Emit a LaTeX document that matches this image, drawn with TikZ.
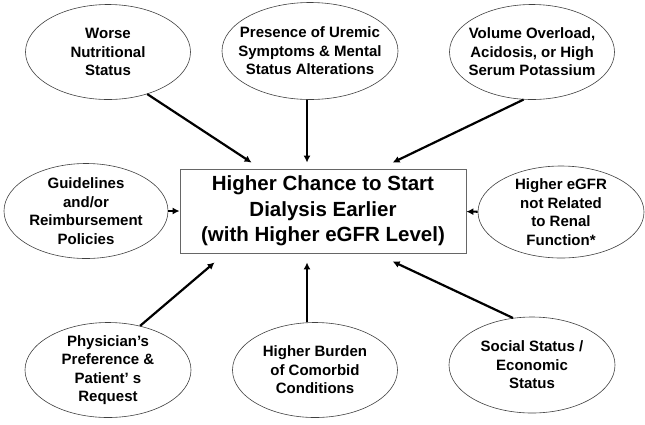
\documentclass[tikz,border=0pt]{standalone}
\usepackage{fontspec}
\setmainfont{Liberation Sans}
\usepackage{tikz}
\usetikzlibrary{arrows.meta,shapes.geometric,calc}

\begin{document}
\begin{tikzpicture}[x=1pt, y=-1pt, >={Latex[length=7pt,width=7pt]}]
    \tikzset{factor/.style={ellipse, draw=black!75, line width=0.6pt, minimum width=165pt, minimum height=95pt,
                            inner xsep=-30pt, inner ysep=-12pt, align=center,
                            font=\fontsize{15}{18.5}\selectfont\bfseries}}
    \tikzset{outcome/.style={rectangle, draw=black!60, line width=0.8pt, minimum width=286pt, minimum height=84pt,
                             inner sep=0pt, align=center, font=\fontsize{20.5}{25.5}\selectfont\bfseries}}
    \tikzset{link/.style={->, line width=2.2pt}}
    \useasboundingbox (0,0) rectangle (645,424);

    % Nodes
    \node (outcome) [outcome] at (323,211) {Higher Chance to Start\\Dialysis Earlier\\(with Higher eGFR Level)};
    \node (nutrition) [factor] at (108,52) {Worse\\Nutritional\\Status};
    \node (uremic) [factor, minimum width=176pt, minimum height=97pt] at (310,51) {Presence of Uremic\\Symptoms \& Mental\\Status Alterations};
    \node (volume) [factor] at (532,52) {Volume Overload,\\Acidosis, or High\\Serum Potassium};
    \node (guidelines) [factor, minimum width=164pt] at (86,211) {Guidelines\\and/or\\Reimbursement\\Policies};
    \node (egfr) [factor, minimum width=166pt, minimum height=92pt] at (561,212) {Higher eGFR\\not Related\\to Renal\\Function*};
    \node (preference) [factor, minimum width=166pt] at (108,370) {Physician’s\\Preference \&\\Patient’ s\\Request};
    \node (comorbid) [factor] at (315,370) {Higher Burden\\of Comorbid\\Conditions};
    \node (social) [factor, minimum width=166pt, minimum height=96pt] at (532,365) {Social Status /\\Economic\\Status};

    % Arrows
    \draw [link] (nutrition.-47) -- ([xshift=72pt,yshift=6pt]outcome.north west);
    \draw [link] ([xshift=-3pt]uremic.south) -- ([xshift=-16pt,yshift=6pt]outcome.north);
    \draw [link] (volume.-100.5) -- ([xshift=213pt,yshift=6pt]outcome.north west);
    \draw [link] (guidelines) -- (outcome);
    \draw [link] (egfr) -- (outcome);
    \draw [link] (preference.54) -- ([xshift=35pt,yshift=-9pt]outcome.south west);
    \draw [link] ([xshift=-8pt]comorbid.north) -- ([xshift=-16pt,yshift=-9pt]outcome.south);
    \draw [link] (social.112) -- ([xshift=213pt,yshift=-8pt]outcome.south west);
\end{tikzpicture}
\end{document}
